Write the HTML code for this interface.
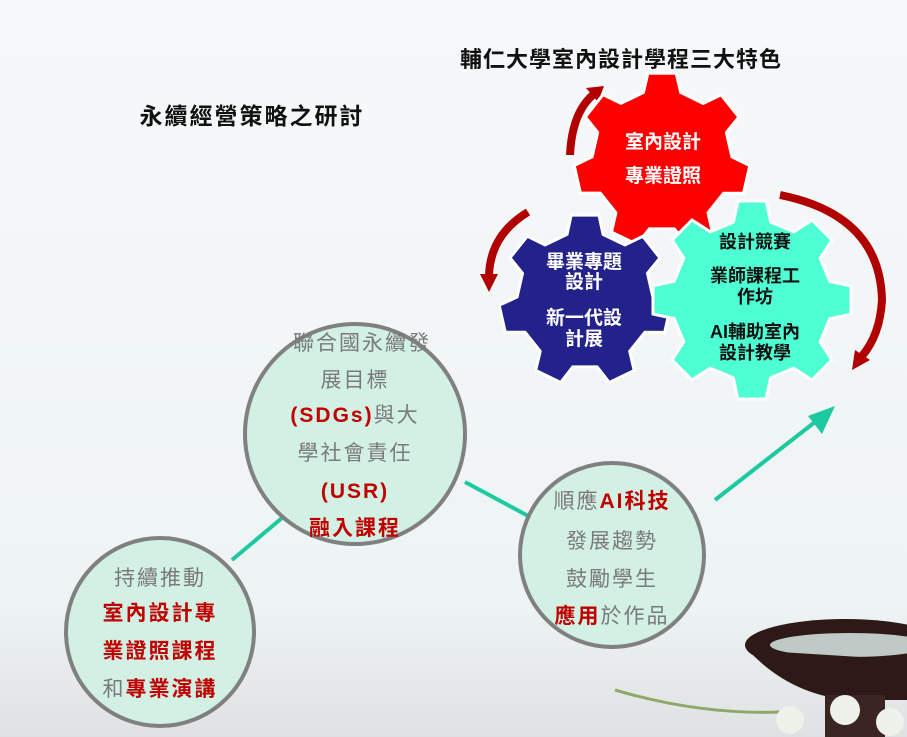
<!DOCTYPE html>
<html><head><meta charset="utf-8"><style>
body{margin:0;width:907px;height:737px;overflow:hidden;background:linear-gradient(#f6f9fa,#eef3f4 82%,#dfe2e2);font-family:"Liberation Sans","Noto Sans CJK TC",sans-serif}
svg{position:absolute;left:0;top:0}
text{font-family:"Liberation Sans","Noto Sans CJK TC",sans-serif}
.g{fill:#7a7a7a;font-size:21px;text-anchor:middle;letter-spacing:2px}
.r{fill:#c00000;font-weight:bold}
.w{fill:#fff;font-size:19px;font-weight:bold;text-anchor:middle}
.k{fill:#111;font-size:18px;font-weight:bold;text-anchor:middle}
</style></head><body>
<svg width="907" height="737" viewBox="0 0 907 737">
<text x="621" y="67" font-size="22" font-weight="bold" fill="#111" text-anchor="middle" letter-spacing="1">輔仁大學室內設計學程三大特色</text>
<text x="252" y="124" font-size="23" font-weight="bold" fill="#111" text-anchor="middle" letter-spacing="2">永續經營策略之研討</text>
<!-- bowl decoration -->
<ellipse cx="845" cy="645" rx="100" ry="26" fill="#2d1a17"/>
<ellipse cx="850" cy="645" rx="80" ry="12" fill="#bfc9c6"/>
<path d="M748,650 Q790,695 850,700 L907,700 L907,660z" fill="#2d1a17"/>
<rect x="825" y="695" width="60" height="42" fill="#3a2522"/>
<path d="M615,690 Q700,715 780,712" stroke="#8fa86a" stroke-width="3" fill="none"/>
<circle cx="790" cy="720" r="14" fill="#eef2ea"/><circle cx="845" cy="710" r="15" fill="#eef2ea"/><circle cx="890" cy="722" r="14" fill="#eef2ea"/>
<!-- connectors -->
<g stroke="#1cc9a0" stroke-width="4">
<line x1="232" y1="560" x2="282" y2="518"/><line x1="465" y1="482" x2="532" y2="518"/><line x1="715" y1="500" x2="815" y2="422"/></g>
<path d="M835,406 L808,416 L822,434z" fill="#1cc9a0"/>
<!-- circles -->
<g fill="#d2f0e4" stroke="#808080" stroke-width="4">
<circle cx="160" cy="632" r="94"/><circle cx="355" cy="434" r="110"/><circle cx="612" cy="555" r="92"/></g>
<text class="g" x="160" y="585">持續推動</text>
<text class="g r" x="160" y="620">室內設計專</text>
<text class="g r" x="160" y="658">業證照課程</text>
<text class="g" x="160" y="696">和<tspan class="r">專業演講</tspan></text>
<text class="g" x="362" y="350">聯合國永續發</text>
<text class="g" x="355" y="387">展目標</text>
<text class="g" x="355" y="422"><tspan class="r">(SDGs)</tspan>與大</text>
<text class="g" x="355" y="460">學社會責任</text>
<text class="g r" x="355" y="498">(USR)</text>
<text class="g r" x="355" y="535">融入課程</text>
<text class="g" x="612" y="508">順應<tspan class="r">AI科技</tspan></text>
<text class="g" x="612" y="548">發展趨勢</text>
<text class="g" x="612" y="586">鼓勵學生</text>
<text class="g" x="612" y="623"><tspan class="r">應用</tspan>於作品</text>
<!-- arrows -->
<g fill="none" stroke="#b00000" stroke-width="8">
<path d="M570,155 Q572,112 594,94"/>
<path d="M528,212 Q490,235 489,276"/>
<path d="M780,195 Q880,215 882,300 Q880,335 862,356"/>
</g>
<g fill="#b00000">
<path d="M604,86 L586,88 L598,102z"/>
<path d="M489,292 L480,274 L498,274z"/>
<path d="M852,370 L855,350 L870,360z"/>
</g>
<g id="gears" stroke="#fff" stroke-width="3"></g>
<text class="w" x="663" y="148">室內設計</text>
<text class="w" x="663" y="182">專業證照</text>
<text class="w" x="584" y="268">畢業專題</text>
<text class="w" x="584" y="288">設計</text>
<text class="w" x="584" y="324">新一代設</text>
<text class="w" x="584" y="345">計展</text>
<text class="k" x="755" y="248">設計競賽</text>
<text class="k" x="755" y="282">業師課程工</text>
<text class="k" x="755" y="303">作坊</text>
<text class="k" x="755" y="338">AI輔助室內</text>
<text class="k" x="755" y="359">設計教學</text>
</svg>
<script>
function gear(cx,cy,ro,ri,n,rot,fill){let d="";for(let i=0;i<n;i++){let a=rot+i*2*Math.PI/n,s=2*Math.PI/n;
let pts=[[ri,a-s*0.3],[ro,a-s*0.18],[ro,a+s*0.18],[ri,a+s*0.3],[ri,a+s*0.7]];
pts.forEach((p,j)=>{d+=(i==0&&j==0?"M":"L")+(cx+p[0]*Math.cos(p[1])).toFixed(1)+","+(cy+p[0]*Math.sin(p[1])).toFixed(1)});}
return '<path d="'+d+'Z" fill="'+fill+'"/>';}
document.getElementById("gears").innerHTML=
gear(662,160,88,70,7,-1.57,"#ff0000")+gear(585,300,86,68,7,-1.57,"#22228a")+gear(752,300,100,80,8,-1.57,"#4dffd2");
</script>
</body></html>
